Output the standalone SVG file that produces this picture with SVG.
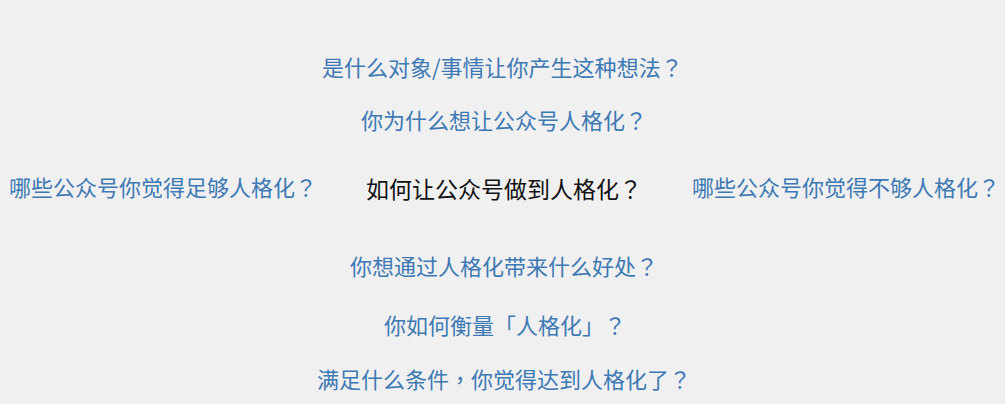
<svg xmlns="http://www.w3.org/2000/svg" width="1005" height="404" viewBox="0 0 1005 404">
<style>
text{font-family:"Noto Sans CJK SC","Noto Sans",sans-serif;font-size:22px}
.q{fill:#3d79b4}
.c{fill:#111111;font-size:23px}
.p{font-family:"Noto Sans CJK TC","Noto Sans CJK SC",sans-serif}
</style>
<rect width="1005" height="404" fill="#f0f0f0"/>
<g id="connectors"></g>
<g id="n1"><text class="q" x="322" y="76">是什么对象/事情让你产生这种想法<tspan class="p">？</tspan></text></g>
<g id="n2"><text class="q" x="361" y="129">你为什么想让公众号人格化<tspan class="p">？</tspan></text></g>
<g id="n3"><text class="q" x="9" y="196">哪些公众号你觉得足够人格化<tspan class="p">？</tspan></text></g>
<g id="center"><text class="c" x="366" y="198">如何让公众号做到人格化<tspan class="p">？</tspan></text></g>
<g id="n4"><text class="q" x="692" y="196">哪些公众号你觉得不够人格化<tspan class="p">？</tspan></text></g>
<g id="n5"><text class="q" x="350" y="275">你想通过人格化带来什么好处<tspan class="p">？</tspan></text></g>
<g id="n6"><text class="q" x="384" y="334">你如何衡量<tspan class="p">「</tspan>人格化<tspan class="p">」？</tspan></text></g>
<g id="n7"><text class="q" x="317" y="388">满足什么条件<tspan class="p">，</tspan>你觉得达到人格化了<tspan class="p">？</tspan></text></g>
</svg>
